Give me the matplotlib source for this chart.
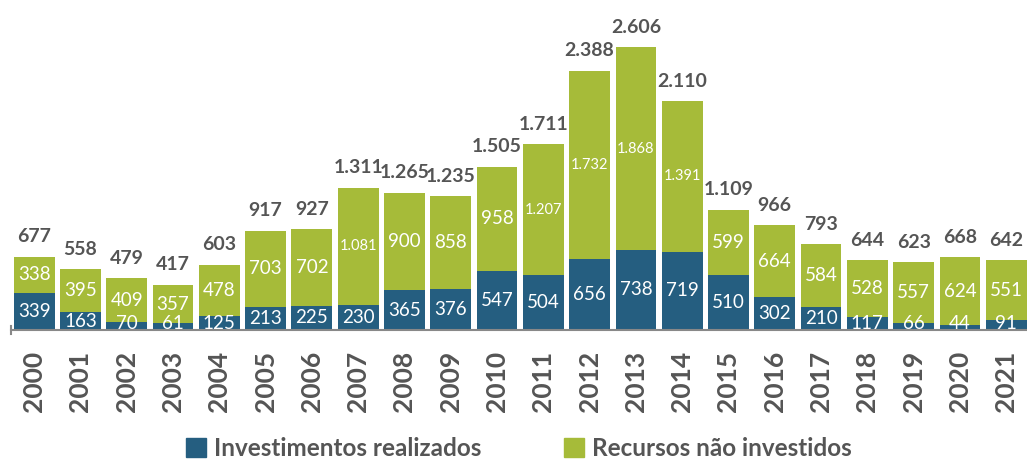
import matplotlib.pyplot as plt
from matplotlib.patches import Patch

years = [str(y) for y in range(2000, 2022)]
investidos = [339, 163, 70, 61, 125, 213, 225, 230, 365, 376, 547,
              504, 656, 738, 719, 510, 302, 210, 117, 66, 44, 91]
nao_investidos = [338, 395, 409, 357, 478, 703, 702, 1081, 900, 858, 958,
                  1207, 1732, 1868, 1391, 599, 664, 584, 528, 557, 624, 551]
totais = [677, 558, 479, 417, 603, 917, 927, 1311, 1265, 1235, 1505,
          1711, 2388, 2606, 2110, 1109, 966, 793, 644, 623, 668, 642]

BLUE = "#255E80"
GREEN = "#A6BB39"
GRAY = "#555555"


def fmt(v):
    # Brazilian thousands separator
    return f"{v:,}".replace(",", ".")


plt.rcParams["font.family"] = ["Lato", "DejaVu Sans"]

fig = plt.figure(figsize=(10.27, 4.61), dpi=100)
ax = fig.add_axes([11 / 1027, 131 / 461, 1 - 11 / 1027, 330 / 461])

x = range(len(years))
ax.bar(x, investidos, width=0.88, color=BLUE)
ax.bar(x, nao_investidos, width=0.88, bottom=investidos, color=GREEN)

for i in x:
    inv = investidos[i]
    nao = nao_investidos[i]
    ax.text(i, max(inv / 2, 62), fmt(inv), ha="center", va="center",
            color="white", fontsize=13.5)
    ax.text(i, inv + nao / 2, fmt(nao), ha="center", va="center",
            color="white", fontsize=10.5 if nao >= 1000 else 13.5)
    ax.text(i, totais[i] + 105, fmt(totais[i]), ha="center", va="bottom",
            color=GRAY, fontsize=14, fontweight="bold")

ax.set_xlim(-0.5, 21.45)
ax.set_ylim(0, 3040)
ax.set_xticks(list(x))
ax.set_xticklabels(years, rotation=90, fontsize=19, fontweight="bold",
                   color=GRAY)
ax.tick_params(axis="x", length=0, pad=15)
ax.set_yticks([])
for side in ["top", "right", "left"]:
    ax.spines[side].set_visible(False)
ax.spines["bottom"].set_color("#888888")
ax.spines["bottom"].set_linewidth(1.5)
ax.plot([-0.5, -0.5], [-40, 40], color="#888888", lw=1.5, clip_on=False)

handles = [Patch(color=BLUE, label="Investimentos realizados"),
           Patch(color=GREEN, label="Recursos não investidos")]
leg = fig.legend(handles=handles, loc="lower center", ncol=2,
                 bbox_to_anchor=(0.505, -0.045), frameon=False,
                 handlelength=0.85, handleheight=0.85, handletextpad=0.3,
                 columnspacing=3.4, prop={"size": 17.5, "weight": "bold"})
for t in leg.get_texts():
    t.set_color(GRAY)

fig.savefig("out.png", dpi=100)
